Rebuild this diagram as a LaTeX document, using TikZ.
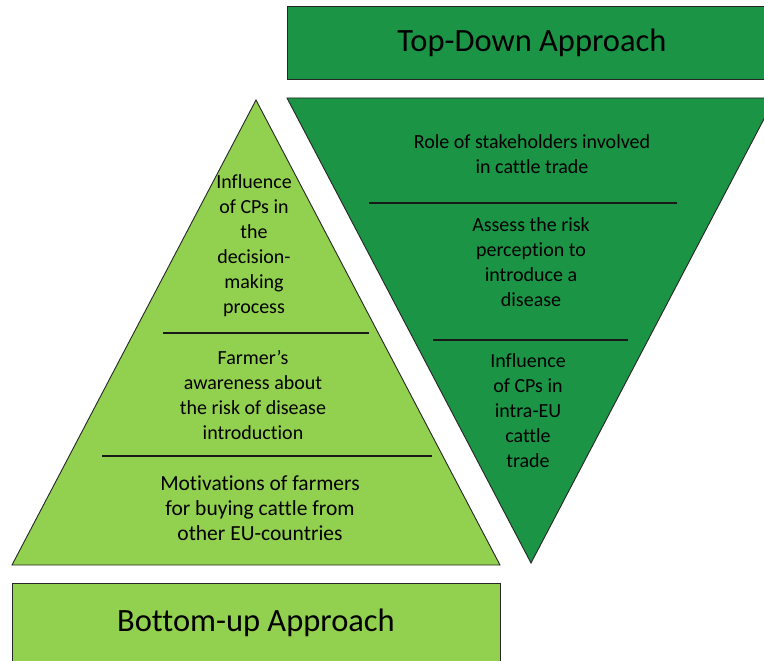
\documentclass[tikz,border=0pt]{standalone}
\usepackage{fontspec}
\setmainfont{Carlito}[Ligatures={NoCommon}]
\usetikzlibrary{positioning}
\definecolor{darkgrn}{RGB}{27,148,69}
\definecolor{lightgrn}{RGB}{146,208,80}
\tikzstyle{banner} = [rectangle, draw=black!85, line width=0.9pt,
    font=\fontsize{32.5}{38}\selectfont, inner sep=0pt]
\tikzstyle{lbl} = [align=center, font=\fontsize{20}{25}\selectfont, inner sep=0pt]
\tikzstyle{layer} = [draw=black!85, line width=0.9pt, line join=miter]
\tikzstyle{divider} = [draw=black!90, line width=1.2pt]

\begin{document}
\begin{tikzpicture}[x=1pt,y=-1pt]
  \useasboundingbox (0,0) rectangle (764,661);
  \clip (0,0) rectangle (764,661);

  % banners
  \node[banner, fill=darkgrn, minimum width=490pt, minimum height=73pt]
        (topdown) at (532,42.5) {Top-Down Approach};
  \node[banner, fill=lightgrn, minimum width=488pt, minimum height=80pt]
        (bottomup) at (256,623) {Bottom-up Approach};

  % pyramid
  \coordinate (pTop) at (256,100);
  \coordinate (pLeft) at (12,565);
  \coordinate (pRight) at (500,565);
  \draw[layer, fill=lightgrn] (pTop) -- (pRight) -- (pLeft) -- cycle;
  \draw[divider] (163,333) -- (369,333);
  \draw[divider] (102,456) -- (432,456);

  % funnel
  \coordinate (fLeft) at (287,98);
  \coordinate (fRight) at (775,98);
  \coordinate (fTip) at (531,563);
  \draw[layer, fill=darkgrn] (fLeft) -- (fRight) -- (fTip) -- cycle;
  \draw[divider] (369,203) -- (677,203);
  \draw[divider] (433,340) -- (628,340);

  % pyramid texts
  \node[lbl] (p1) at (254,246) {Influence\\of CPs in\\the\\decision-\\making\\process};
  \node[lbl] (p2) at (253,395) {Farmer's\\awareness about\\the risk of disease\\introduction};
  \node[lbl, font=\fontsize{21.5}{25}\selectfont] (p3) at (260,508)
        {Motivations of farmers\\for buying cattle from\\other EU-countries};

  % funnel texts
  \node[lbl] (f1) at (532,154) {Role of stakeholders involved\\in cattle trade};
  \node[lbl] (f2) at (531,262) {Assess the risk\\perception to\\introduce a\\disease};
  \node[lbl] (f3) at (528,411) {Influence\\of CPs in\\intra-EU\\cattle\\trade};
\end{tikzpicture}
\end{document}
